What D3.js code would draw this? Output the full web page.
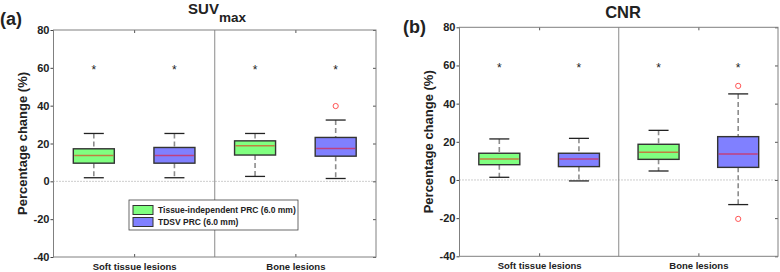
<!DOCTYPE html>
<html><head><meta charset="utf-8">
<script src="https://cdn.jsdelivr.net/npm/d3@7"></script>
<style>
body{margin:0;background:#fff}
svg{display:block}
text{font-family:"Liberation Sans",Arial,Helvetica,sans-serif;font-weight:bold;fill:#222}
</style>
</head><body>
<svg id="chart" width="780" height="272"></svg>
<script>
// ---------- data ----------
const categories = ["Soft tissue lesions", "Bone lesions"];
const seriesNames = ["Tissue-independent PRC (6.0 mm)", "TDSV PRC (6.0 mm)"];
const seriesColors = ["#80ff80", "#8080ff"];
const yTicks = [-40, -20, 0, 20, 40, 60, 80];
const yTickLabels = ["-40", "-20", "0", "20", "40", "60", "80"];

// box order: [soft/TI, soft/TDSV, bone/TI, bone/TDSV]
const suvLow    = [1.9, 1.9, 2.6, 1.5];
const suvQ1     = [9.6, 9.6, 13.9, 13.3];
const suvMedian = [13.7, 13.7, 18.8, 17.4];
const suvQ3     = [17.2, 17.9, 21.4, 23.2];
const suvHigh   = [25.3, 25.3, 25.3, 32.4];
const suvOutliers = [[], [], [], [39.8]];

const cnrLow    = [1.4, -0.5, 4.7, -12.9];
const cnrQ1     = [8.0, 7.0, 10.8, 6.6];
const cnrMedian = [11.0, 11.0, 14.5, 13.6];
const cnrQ3     = [14.0, 14.0, 18.7, 22.7];
const cnrHigh   = [21.5, 21.8, 26.0, 45.1];
const cnrOutliers = [[], [], [], [49.3, -20.4]];

const significanceMarks = [60, 60, 60, 60];

// ---------- drawing ----------
const svg = d3.select("#chart");

function boxesFrom(low, q1, med, q3, high, outl) {
  const out = [];
  categories.forEach((c, ci) => {
    seriesNames.forEach((s, si) => {
      const k = ci * seriesNames.length + si;
      out.push({cat: c, ser: s, si, low: low[k], q1: q1[k], med: med[k], q3: q3[k], high: high[k], outliers: outl[k], sig: significanceMarks[k]});
    });
  });
  return out;
}

function panel(cfg) {
  const g = svg.append("g");
  const x = d3.scaleBand().domain(categories).range([cfg.left, cfg.right]);
  const xs = d3.scalePoint().domain(seriesNames).range([0, x.bandwidth()]).padding(0.5);
  const y = d3.scaleLinear().domain([-40, 80]).range([cfg.bottom, cfg.top]);
  const frame = "#808080";

  // zero line
  g.append("line").attr("x1", cfg.left).attr("x2", cfg.right)
    .attr("y1", y(0)).attr("y2", y(0))
    .attr("stroke", "#9a9a9a").attr("stroke-width", 1).attr("stroke-dasharray", "1,2");

  // category divider
  const mid = (cfg.left + cfg.right) / 2;
  g.append("line").attr("x1", mid).attr("x2", mid).attr("y1", cfg.top).attr("y2", cfg.bottom)
    .attr("stroke", "#8a8a8a").attr("stroke-width", 1);

  // axes
  const yl = g.append("g").attr("transform", `translate(${cfg.left},0)`)
    .call(d3.axisLeft(y).tickValues(yTicks).tickFormat((d, i) => yTickLabels[i]).tickSize(3).tickPadding(1));
  yl.select(".domain").remove();
  yl.selectAll("line").attr("stroke", "#444");
  yl.selectAll("text").attr("font-size", 11).style("font-family", '"Liberation Sans",Arial,sans-serif').style("font-weight", "bold").attr("fill", "#222");

  const yr = g.append("g").attr("transform", `translate(${cfg.right},0)`)
    .call(d3.axisRight(y).tickValues(yTicks).tickFormat("").tickSize(-3));
  yr.select(".domain").remove();
  yr.selectAll("line").attr("stroke", "#555");

  const xc = d => x(d) + x.bandwidth() / 2;
  const xb = g.append("g").attr("transform", `translate(0,${cfg.bottom})`)
    .call(d3.axisBottom(d3.scalePoint().domain(categories).range([xc(categories[0]), xc(categories[1])])).tickSize(-3).tickPadding(6));
  xb.select(".domain").remove();
  xb.selectAll("line").attr("stroke", "#555");
  xb.selectAll("text").attr("font-size", 9.5).style("font-family", '"Liberation Sans",Arial,sans-serif').style("font-weight", "bold").attr("fill", "#222");

  const xt = g.append("g").attr("transform", `translate(0,${cfg.top})`)
    .call(d3.axisTop(d3.scalePoint().domain(categories).range([xc(categories[0]), xc(categories[1])])).tickSize(-3).tickFormat(""));
  xt.select(".domain").remove();
  xt.selectAll("line").attr("stroke", "#555");

  // frame
  g.append("rect").attr("x", cfg.left).attr("y", cfg.top)
    .attr("width", cfg.right - cfg.left).attr("height", cfg.bottom - cfg.top)
    .attr("fill", "none").attr("stroke", frame).attr("stroke-width", 1);

  // boxes
  const data = boxesFrom(cfg.low, cfg.q1, cfg.med, cfg.q3, cfg.high, cfg.outliers);
  const bw = 41, cw = 20;
  const bx = g.selectAll(".bx").data(data).join("g").attr("class", "bx")
    .attr("transform", d => `translate(${x(d.cat) + xs(d.ser)},0)`);

  // whiskers
  bx.append("line").attr("x1", 0).attr("x2", 0).attr("y1", d => y(d.high)).attr("y2", d => y(d.q3))
    .attr("stroke", "#8c8c8c").attr("stroke-width", 1.6).attr("stroke-dasharray", "5,3");
  bx.append("line").attr("x1", 0).attr("x2", 0).attr("y1", d => y(d.q1)).attr("y2", d => y(d.low))
    .attr("stroke", "#8c8c8c").attr("stroke-width", 1.6).attr("stroke-dasharray", "5,3");
  // caps
  bx.append("line").attr("x1", -cw / 2).attr("x2", cw / 2).attr("y1", d => y(d.high)).attr("y2", d => y(d.high))
    .attr("stroke", "#222").attr("stroke-width", 1.3);
  bx.append("line").attr("x1", -cw / 2).attr("x2", cw / 2).attr("y1", d => y(d.low)).attr("y2", d => y(d.low))
    .attr("stroke", "#222").attr("stroke-width", 1.3);
  // box
  bx.append("rect").attr("x", -bw / 2).attr("width", bw)
    .attr("y", d => y(d.q3)).attr("height", d => y(d.q1) - y(d.q3))
    .attr("fill", d => seriesColors[d.si]).attr("stroke", "#333").attr("stroke-width", 1.4);
  // median
  bx.append("line").attr("x1", -bw / 2 + 1).attr("x2", bw / 2 - 1).attr("y1", d => y(d.med)).attr("y2", d => y(d.med))
    .attr("stroke", "#ff0000").attr("stroke-opacity", 0.5).attr("stroke-width", 1.5);
  // outliers
  bx.selectAll(".out").data(d => d.outliers).join("circle").attr("class", "out")
    .attr("cx", 0).attr("cy", v => y(v)).attr("r", 2.6)
    .attr("fill", "none").attr("stroke", "#ff5555").attr("stroke-width", 1);
  // significance asterisks
  bx.append("text").attr("x", 0).attr("y", d => y(d.sig)).attr("dy", "0.55em")
    .attr("text-anchor", "middle").attr("font-size", 12).style("font-weight", "normal")
    .attr("fill", "#555").text("*");

  // y label
  g.append("text").attr("transform", `translate(${cfg.ylabX},${(cfg.top + cfg.bottom) / 2}) rotate(-90)`)
    .attr("text-anchor", "middle").attr("font-size", 13).text("Percentage change (%)");

  // panel letter
  g.append("text").attr("x", cfg.letterX).attr("y", cfg.letterY).attr("font-size", 18).text(cfg.letter);

  return {g, x, y};
}

const pa = panel({left: 53.5, right: 376, top: 30, bottom: 257, ylabX: 26.5, letterX: 0, letterY: 25, letter: "(a)",
  low: suvLow, q1: suvQ1, med: suvMedian, q3: suvQ3, high: suvHigh, outliers: suvOutliers});
const pb = panel({left: 459.5, right: 778, top: 27.3, bottom: 256.3, ylabX: 433, letterX: 403, letterY: 33, letter: "(b)",
  low: cnrLow, q1: cnrQ1, med: cnrMedian, q3: cnrQ3, high: cnrHigh, outliers: cnrOutliers});

// titles
const t1 = svg.append("text").attr("x", 217).attr("y", 13.5).attr("text-anchor", "middle").attr("font-size", 15);
t1.append("tspan").text("SUV");
t1.append("tspan").attr("dy", 8.5).attr("font-size", 13.5).text("max");
svg.append("text").attr("x", 623).attr("y", 17.5).attr("text-anchor", "middle").attr("font-size", 16.5).text("CNR");

// legend (panel a)
const lg = pa.g.append("g");
lg.append("rect").attr("x", 129).attr("y", 200).attr("width", 169).attr("height", 30)
  .attr("fill", "#fff").attr("stroke", "#444").attr("stroke-width", 0.8);
seriesNames.forEach((s, i) => {
  lg.append("rect").attr("x", 133).attr("y", 205.5 + i * 12).attr("width", 20).attr("height", 9)
    .attr("fill", seriesColors[i]).attr("stroke", "#333").attr("stroke-width", 1);
  lg.append("text").attr("x", 158).attr("y", 213 + i * 11.5).attr("font-size", 8.5).text(s);
});
</script>
</body></html>
